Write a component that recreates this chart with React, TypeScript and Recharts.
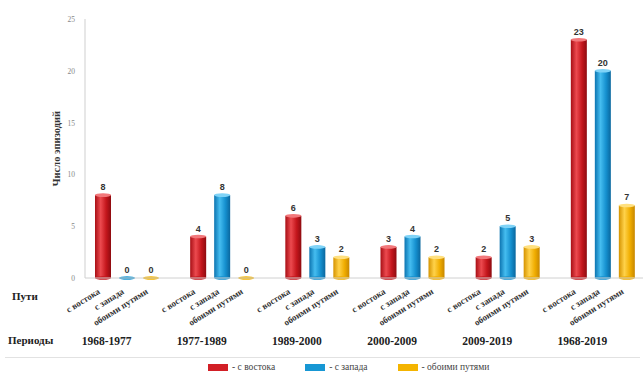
import React from 'react';
import { BarChart, Bar, XAxis, YAxis, LabelList } from 'recharts';

const periods = ['1968-1977', '1977-1989', '1989-2000', '2000-2009', '2009-2019', '1968-2019'];
const fromEast = [8, 4, 6, 3, 2, 23];
const fromWest = [0, 8, 3, 4, 5, 20];
const bothWays = [0, 0, 2, 2, 3, 7];
const routeNames = ['с востока', 'с запада', 'обоими путями'];
const legendNames = ['- с востока', '- с запада', '- обоими путями'];
const yTicks = [0, 5, 10, 15, 20, 25];

const seriesKeys = ['east', 'west', 'both'];
const seriesColors = ['#d21f26', '#1797d4', '#f4b400'];
const gradStops = [
  ['#a80f15', '#ec4a4f', '#c4161c', '#8e0b10'],
  ['#0c74b0', '#45bdf0', '#1590cf', '#0a679e'],
  ['#d59300', '#ffd24a', '#f0ad00', '#c78700'],
];
const capColors = ['#f2787b', '#7fd3f7', '#ffe07f'];

const data = periods.map((p, i) => ({
  period: p,
  east: fromEast[i],
  west: fromWest[i],
  both: bothWays[i],
}));

const BAR = 16;
const GAP = 8;
const serif = '"Liberation Serif", "Times New Roman", serif';

const makeShape = (idx: number) => (props: any) => {
  const { x, y, width, height } = props;
  if (x == null || y == null) return null;
  const rx = width / 2;
  if (!height || height <= 0.5) {
    return <ellipse cx={x + rx} cy={y} rx={rx} ry={1.8} fill={seriesColors[idx]} />;
  }
  return (
    <g>
      <rect x={x} y={y} width={width} height={height} fill={`url(#grad${idx})`} />
      <ellipse cx={x + rx} cy={y + height} rx={rx} ry={1.8} fill={gradStops[idx][2]} />
      <ellipse cx={x + rx} cy={y} rx={rx} ry={1.8} fill={capColors[idx]} />
    </g>
  );
};

const PeriodTick = (props: any) => {
  const { x, y, payload } = props;
  const offsets = [-(BAR + GAP), 0, BAR + GAP];
  return (
    <g>
      {routeNames.map((name, i) => {
        const tx = x + offsets[i] - 2;
        const ty = y + 7;
        return (
          <text
            key={name}
            x={tx}
            y={ty}
            textAnchor="end"
            transform={`rotate(-32 ${tx} ${ty})`}
            fontFamily={serif}
            fontWeight="bold"
            fontSize={9}
            fill="#333"
          >
            {name}
          </text>
        );
      })}
      <text
        x={x - 20}
        y={y + 59}
        textAnchor="middle"
        fontFamily={serif}
        fontWeight="bold"
        fontSize={11.5}
        fill="#222"
      >
        {payload.value}
      </text>
    </g>
  );
};

const YTick = (props: any) => {
  const { x, y, payload } = props;
  return (
    <text x={x} y={y + 3} textAnchor="end" fontFamily={serif} fontSize={7.5} fill="#888">
      {payload.value}
    </text>
  );
};

export default function App() {
  return (
    <div
      style={{
        position: 'absolute',
        left: 0,
        top: 0,
        width: 643,
        height: 378,
        overflow: 'hidden',
        background: '#fff',
      }}
    >
      <BarChart
        width={655}
        height={378}
        data={data}
        margin={{ top: 19, right: 5, bottom: 0, left: 0 }}
        barSize={BAR}
        barGap={GAP}
      >
        <defs>
          {gradStops.map((s, i) => (
            <linearGradient key={i} id={`grad${i}`} x1="0" y1="0" x2="1" y2="0">
              <stop offset="0%" stopColor={s[0]} />
              <stop offset="35%" stopColor={s[1]} />
              <stop offset="70%" stopColor={s[2]} />
              <stop offset="100%" stopColor={s[3]} />
            </linearGradient>
          ))}
        </defs>
        <XAxis
          dataKey="period"
          height={100}
          padding={{ left: -6, right: 0 }}
          axisLine={{ stroke: '#d0d0d0' }}
          tickLine={false}
          interval={0}
          tick={<PeriodTick />}
        />
        <YAxis
          width={85}
          domain={[0, 25]}
          ticks={yTicks}
          axisLine={{ stroke: '#cfcfcf' }}
          tickLine={false}
          tickMargin={4}
          tick={<YTick />}
          label={{
            value: 'Число  эпизодий',
            angle: -90,
            position: 'center',
            dx: 14,
            style: { fontFamily: serif, fontWeight: 'bold', fontSize: 10.5, fill: '#333' },
          }}
        />
        {seriesKeys.map((k, i) => (
          <Bar key={k} dataKey={k} fill={seriesColors[i]} isAnimationActive={false} shape={makeShape(i)}>
            <LabelList
              dataKey={k}
              position="top"
              offset={5}
              style={{ fontFamily: '"Liberation Sans", Arial, sans-serif', fontWeight: 'bold', fontSize: 9, fill: '#333' }}
            />
          </Bar>
        ))}
      </BarChart>
      <div
        style={{
          position: 'absolute',
          left: 12,
          top: 290,
          fontFamily: serif,
          fontWeight: 'bold',
          fontSize: 11,
          color: '#222',
        }}
      >
        Пути
      </div>
      <div
        style={{
          position: 'absolute',
          left: 8,
          top: 334,
          fontFamily: serif,
          fontWeight: 'bold',
          fontSize: 11,
          color: '#222',
        }}
      >
        Периоды
      </div>
      <div
        style={{
          position: 'absolute',
          left: 5,
          top: 357,
          width: 635,
          height: 1,
          background: '#e2e2e2',
        }}
      />
      <div
        style={{
          position: 'absolute',
          left: 208,
          top: 362,
          display: 'flex',
          alignItems: 'center',
          fontFamily: serif,
          fontSize: 9.5,
          color: '#444',
        }}
      >
        {legendNames.map((n, i) => (
          <div key={n} style={{ display: 'flex', alignItems: 'center', marginRight: 30 }}>
            <span
              style={{
                display: 'inline-block',
                width: 20,
                height: 7,
                background: seriesColors[i],
                marginRight: 4,
              }}
            />
            <span>{n}</span>
          </div>
        ))}
      </div>
    </div>
  );
}
